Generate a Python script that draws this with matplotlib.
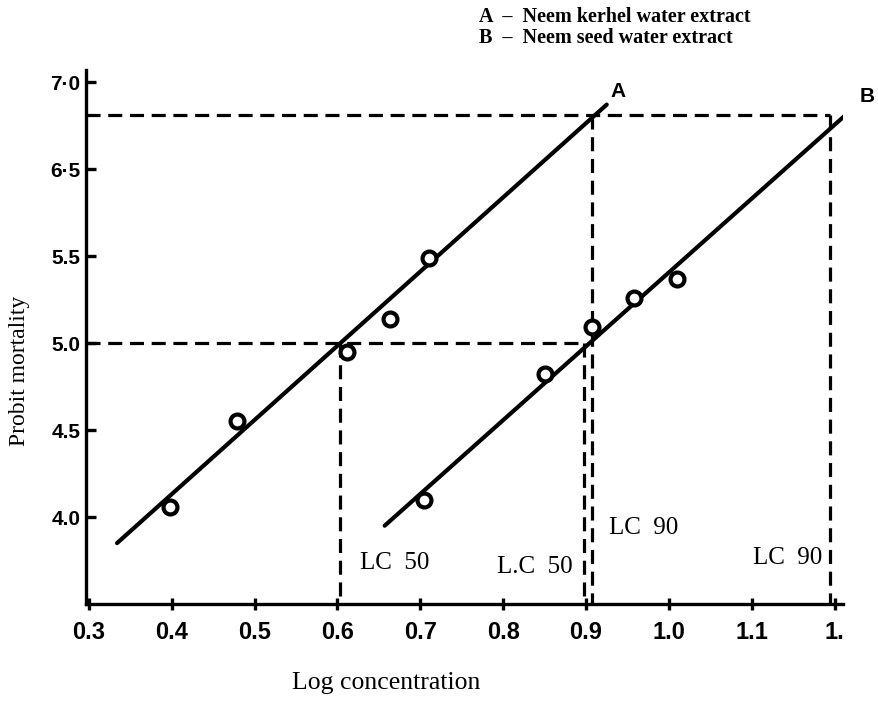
import numpy as np
import matplotlib.pyplot as plt

# A = neem kernel water extract, B = neem seed water extract
logc_A = [0.398, 0.479, 0.612, 0.663, 0.710]
probit_A = [4.06, 4.55, 4.95, 5.14, 5.49]
logc_B = [0.704, 0.851, 0.907, 0.958, 1.010]
probit_B = [4.10, 4.82, 5.09, 5.26, 5.37]

# fitted probit lines (end points)
fitx_A = [0.334, 0.925]
fity_A = [3.85, 6.37]
fitx_B = [0.657, 1.225]
fity_B = [3.95, 6.36]

# lethal concentrations
lc50 = [0.603, 0.897]
lc90 = [0.907, 1.195]
p50 = 5.0
p90 = 6.31

xticks = [0.3, 0.4, 0.5, 0.6, 0.7, 0.8, 0.9, 1.0, 1.1, 1.2]
xlabels = ["0.3", "0.4", "0.5", "0.6", "0.7", "0.8", "0.9", "1.0", "1.1", "1."]
yticks = [4.0, 4.5, 5.0, 5.5, 6.0, 6.5]
ylabels = ["4.0", "4.5", "5.0", "5.5", "6·5", "7·0"]

serif = "Liberation Serif"
sans = "Liberation Sans"

fig = plt.figure(figsize=(8.79, 7.01), dpi=100)
ax = fig.add_axes([86/879, 97/701, 757/879, 534/701])
ax.set_xlim(0.2965, 1.2102)
ax.set_ylim(3.5, 6.569)
x0 = ax.get_xlim()[0]
y0 = ax.get_ylim()[0]

dash = dict(color="k", lw=2.3, dashes=(4.4, 2.4))
# horizontal guides
ax.plot([x0, lc50[1]], [p50, p50], **dash)
ax.plot([x0, lc90[1]], [p90, p90], **dash)
# vertical guides
for x in lc50:
    ax.plot([x, x], [p50, y0], **dash)
for x in lc90:
    ax.plot([x, x], [p90, y0], **dash)

ax.plot(fitx_A, fity_A, "k-", lw=3.0, solid_capstyle="round")
ax.plot(fitx_B, fity_B, "k-", lw=3.0, solid_capstyle="round")
ax.plot(logc_A, probit_A, "o", ms=10, mfc="white", mec="k", mew=3.0)
ax.plot(logc_B, probit_B, "o", ms=10, mfc="white", mec="k", mew=3.0)

ax.text(fitx_A[1] + 0.005, fity_A[1] + 0.02, "A", fontsize=15, fontweight="bold",
        family=sans, ha="left", va="bottom")
ax.text(fitx_B[1] + 0.005, fity_B[1] + 0.0, "B", fontsize=15, fontweight="bold",
        family=sans, ha="left", va="bottom")

ax.text(0.669, 3.736, "LC  50", fontsize=18, family=serif, ha="center", va="center")
ax.text(0.838, 3.713, "L.C  50", fontsize=18, family=serif, ha="center", va="center")
ax.text(0.970, 3.937, "LC  90", fontsize=18, family=serif, ha="center", va="center")
ax.text(1.143, 3.764, "LC  90", fontsize=18, family=serif, ha="center", va="center")

for s in ["top", "right"]:
    ax.spines[s].set_visible(False)
for s in ["left", "bottom"]:
    ax.spines[s].set_linewidth(2.4)

ax.set_xticks(xticks)
ax.set_xticklabels(xlabels, fontsize=17, fontweight="bold", family=sans)
ax.set_yticks(yticks)
ax.set_yticklabels(ylabels, fontsize=15, fontweight="bold", family=sans)
ax.tick_params(axis="x", direction="inout", length=9, width=2.4, pad=8)
ax.tick_params(axis="y", direction="in", length=7, width=2.4, pad=4)

fig.text(386/879, 1 - 683/701, "Log concentration", fontsize=18.5, family=serif,
         ha="center", va="center")
fig.text(20/879, 1 - 371/701, "Probit mortality", fontsize=17, family=serif,
         rotation=90, ha="center", va="center")

fig.text(479/879, 1 - 17/701, "A  –  Neem kerhel water extract", fontsize=14.5,
         fontweight="bold", family=serif, ha="left", va="center")
fig.text(479/879, 1 - 38/701, "B  –  Neem seed water extract", fontsize=14.5,
         fontweight="bold", family=serif, ha="left", va="center")

fig.savefig("out.png", dpi=100)
